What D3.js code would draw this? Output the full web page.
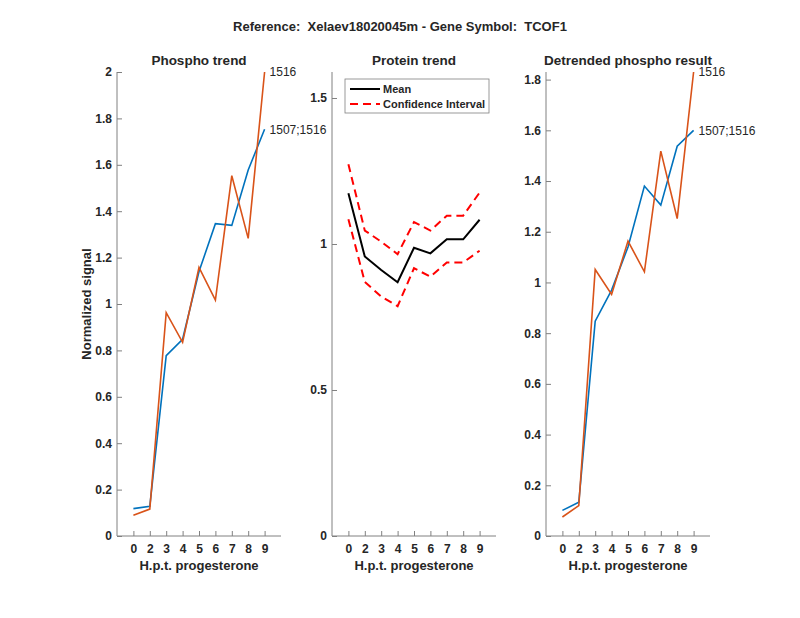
<!DOCTYPE html>
<html>
<head>
<meta charset="utf-8">
<script src="https://cdn.jsdelivr.net/npm/d3@7"></script>
<style>
  body { margin: 0; background: #fff; }
  text { font-family: "Liberation Sans", Arial, sans-serif; fill: #262626; }
</style>
</head>
<body>
<script>
// Chart data
var timeLabels = ["0", "2", "3", "4", "5", "6", "7", "8", "9"];

var phosphoBlue = [0.118, 0.128, 0.777, 0.848, 1.14, 1.346, 1.339, 1.578, 1.753];
var phosphoOrange = [0.089, 0.116, 0.963, 0.835, 1.158, 1.017, 1.553, 1.283, 2.0];

var proteinMean = [1.174, 0.957, 0.911, 0.869, 0.987, 0.968, 1.016, 1.016, 1.083];
var proteinUpper = [1.273, 1.046, 1.008, 0.965, 1.075, 1.046, 1.097, 1.097, 1.176];
var proteinLower = [1.085, 0.870, 0.820, 0.787, 0.917, 0.888, 0.937, 0.937, 0.977];

var detrendBlue = [0.101, 0.133, 0.847, 0.97, 1.140, 1.380, 1.305, 1.537, 1.600];
var detrendOrange = [0.075, 0.120, 1.051, 0.953, 1.163, 1.042, 1.518, 1.252, 1.830];

var blueName = "1507;1516";
var orangeName = "1516";

var phosphoTicks = [0, 0.2, 0.4, 0.6, 0.8, 1, 1.2, 1.4, 1.6, 1.8, 2];
var proteinTicks = [0, 0.5, 1, 1.5];
var detrendTicks = [0, 0.2, 0.4, 0.6, 0.8, 1, 1.2, 1.4, 1.6, 1.8];

var svgWidth = 800;
var svgHeight = 618;
var plotTop = 72, plotBottom = 536;

var svg = d3.select("body")
  .append("svg")
  .attr("width", svgWidth)
  .attr("height", svgHeight);

svg.append("text")
  .attr("x", 400).attr("y", 31)
  .attr("text-anchor", "middle")
  .style("font-size", "13px").style("font-weight", "bold")
  .style("white-space", "pre")
  .text("Reference:  Xelaev18020045m - Gene Symbol:  TCOF1");

// Draws one panel's axes and returns its scales
function makePanel(left, yMax, ticks, title) {
  var g = svg.append("g");
  var x = d3.scaleLinear().domain([0, 10]).range([left, left + 164]);
  var y = d3.scaleLinear().domain([0, yMax]).range([plotBottom, plotTop]);

  var yAxis = d3.axisRight(y).tickValues(ticks).tickSize(5).tickFormat(d3.format("~g"));
  var yg = g.append("g").attr("transform", `translate(${left},0)`).call(yAxis);
  yg.select(".domain").remove();
  yg.selectAll("text").attr("x", -5).style("text-anchor", "end")
    .style("font-size", "12px").style("font-weight", "bold");

  var xAxis = d3.axisTop(x).tickValues(d3.range(1, 10)).tickSize(5)
    .tickFormat((d, i) => timeLabels[i]);
  var xg = g.append("g").attr("transform", `translate(0,${plotBottom})`).call(xAxis);
  xg.select(".domain").remove();
  xg.selectAll("text").attr("y", 8).attr("dy", "0.71em")
    .style("font-size", "12px").style("font-weight", "bold");

  g.selectAll(".tick line").attr("stroke", "#808080");

  g.append("line").attr("x1", left).attr("x2", left).attr("y1", plotTop).attr("y2", plotBottom)
    .attr("stroke", "#808080");
  g.append("line").attr("x1", left).attr("x2", left + 164).attr("y1", plotBottom).attr("y2", plotBottom)
    .attr("stroke", "#808080");

  g.append("text")
    .attr("x", left + 82).attr("y", 570)
    .attr("text-anchor", "middle")
    .style("font-size", "13px").style("font-weight", "bold")
    .text("H.p.t. progesterone");

  g.append("text")
    .attr("x", left + 82).attr("y", 65)
    .attr("text-anchor", "middle")
    .style("font-size", "13.5px").style("font-weight", "bold")
    .text(title);

  return { g: g, x: x, y: y };
}

function drawLine(p, values, color, width, dash) {
  var line = d3.line()
    .x((d, i) => p.x(i + 1))
    .y(d => p.y(d));
  var path = p.g.append("path")
    .datum(values)
    .attr("d", line)
    .attr("fill", "none")
    .attr("stroke", color)
    .attr("stroke-width", width);
  if (dash) path.attr("stroke-dasharray", dash);
}

function endLabel(p, values, label) {
  p.g.append("text")
    .attr("x", p.x(9) + 5)
    .attr("y", p.y(values[values.length - 1]))
    .attr("dy", "0.35em")
    .style("font-size", "12px")
    .text(label);
}

var blue = "#0072BD", orange = "#D95319";

// Phospho trend
var p1 = makePanel(117, 2, phosphoTicks, "Phospho trend");
drawLine(p1, phosphoBlue, blue, 1.6);
drawLine(p1, phosphoOrange, orange, 1.6);
endLabel(p1, phosphoOrange, orangeName);
endLabel(p1, phosphoBlue, blueName);

svg.append("text")
  .attr("transform", "translate(91,304) rotate(-90)")
  .attr("text-anchor", "middle")
  .style("font-size", "13px").style("font-weight", "bold")
  .text("Normalized signal");

// Protein trend
var p2 = makePanel(332, 1.589, proteinTicks, "Protein trend");
drawLine(p2, proteinUpper, "#ff0000", 2, "8,5");
drawLine(p2, proteinLower, "#ff0000", 2, "8,5");
drawLine(p2, proteinMean, "#000", 2);

var legend = p2.g.append("g");
legend.append("rect")
  .attr("x", 345).attr("y", 79).attr("width", 144).attr("height", 34)
  .attr("fill", "#fff").attr("stroke", "#808080").attr("stroke-width", 0.8);
legend.append("line").attr("x1", 350).attr("x2", 380).attr("y1", 89).attr("y2", 89)
  .attr("stroke", "#000").attr("stroke-width", 2);
legend.append("line").attr("x1", 350).attr("x2", 380).attr("y1", 104).attr("y2", 104)
  .attr("stroke", "#ff0000").attr("stroke-width", 2).attr("stroke-dasharray", "8,5");
legend.append("text").attr("x", 383).attr("y", 89).attr("dy", "0.35em")
  .style("font-size", "11px").style("font-weight", "bold").text("Mean");
legend.append("text").attr("x", 383).attr("y", 104).attr("dy", "0.35em")
  .style("font-size", "11px").style("font-weight", "bold").text("Confidence Interval");

// Detrended phospho result
var p3 = makePanel(546, 1.83, detrendTicks, "Detrended phospho result");
drawLine(p3, detrendBlue, blue, 1.6);
drawLine(p3, detrendOrange, orange, 1.6);
endLabel(p3, detrendOrange, orangeName);
endLabel(p3, detrendBlue, blueName);
</script>
</body>
</html>
